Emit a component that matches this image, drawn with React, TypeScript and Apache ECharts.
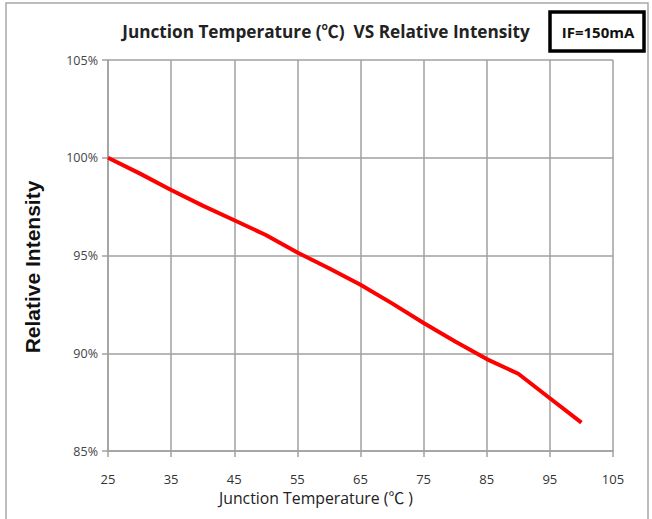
import React, { useEffect, useRef } from "react";
import * as echarts from "echarts";

const temperatures = [25, 30, 35, 40, 45, 50, 55, 60, 65, 70, 75, 80, 85, 90, 95, 100];
const intensity = [100, 99.2, 98.35, 97.55, 96.8, 96.05, 95.15, 94.35, 93.5, 92.55, 91.55, 90.6, 89.7, 88.95, 87.7, 86.45];
const titleText = "Junction Temperature (℃)  VS Relative Intensity";
const xAxisName = "Junction Temperature (℃ )";
const yAxisName = "Relative Intensity";
const legendNote = "IF=150mA";

export default function App() {
  const ref = useRef<HTMLDivElement>(null);
  useEffect(() => {
    document.body.style.margin = "0";
    const chart = echarts.init(ref.current!, null, { renderer: "svg" });
    const font = "'Open Sans', 'Noto Sans CJK SC', sans-serif";
    chart.setOption({
      animation: false,
      backgroundColor: "#ffffff",
      grid: { left: 108, top: 60, width: 505, height: 391, containLabel: false },
      xAxis: {
        type: "value",
        min: 25,
        max: 105,
        interval: 10,
        axisLine: { show: true, lineStyle: { color: "#a0a0a0", width: 1.5 } },
        axisTick: { show: true, length: 6, lineStyle: { color: "#a0a0a0", width: 1.5 } },
        axisLabel: { fontFamily: font, fontSize: 13, lineHeight: 13, color: "#333", margin: 21 },
        splitLine: { show: true, lineStyle: { color: "#a0a0a0", width: 1.5 } },
      },
      yAxis: {
        type: "value",
        min: 85,
        max: 105,
        interval: 5,
        axisLine: { show: true, lineStyle: { color: "#a0a0a0", width: 1.5 } },
        axisTick: { show: true, length: 6, lineStyle: { color: "#a0a0a0", width: 1.5 } },
        axisLabel: { fontFamily: font, fontSize: 12.5, color: "#444", margin: 10, formatter: (v: number) => `${v}%` },
        splitLine: { show: true, lineStyle: { color: "#a0a0a0", width: 1.5 } },
      },
      series: [
        {
          type: "line",
          data: temperatures.map((t, i) => [t, intensity[i]]),
          showSymbol: false,
          symbol: "none",
          lineStyle: { color: "#ff0000", width: 4 },
          z: 5,
        },
      ],
      graphic: [
        {
          type: "rect",
          shape: { x: 6, y: 3, width: 642, height: 530 },
          style: { fill: "none", stroke: "#a8a8a8", lineWidth: 1.5 },
          silent: true,
        },
        {
          type: "text",
          x: 326,
          y: 31,
          style: {
            text: titleText,
            fontFamily: font,
            fontSize: 17.2,
            fontWeight: "bold",
            fill: "#222",
            align: "center",
            verticalAlign: "middle",
          },
        },
        {
          type: "text",
          x: 316,
          y: 498,
          style: {
            text: xAxisName,
            fontFamily: font,
            fontSize: 15.8,
            lineHeight: 16,
            fill: "#222",
            align: "center",
            verticalAlign: "middle",
          },
        },
        {
          type: "rect",
          shape: { x: 550, y: 12, width: 94, height: 39 },
          style: { fill: "#fff", stroke: "#000", lineWidth: 3.5 },
        },
        {
          type: "text",
          x: 598,
          y: 32,
          style: {
            text: legendNote,
            fontFamily: font,
            fontSize: 15,
            fontWeight: "bold",
            fill: "#111",
            align: "center",
            verticalAlign: "middle",
          },
        },
        {
          type: "text",
          x: 32,
          y: 267,
          rotation: Math.PI / 2,
          style: {
            text: yAxisName,
            fontFamily: "'Liberation Sans', Arial, sans-serif",
            fontSize: 21,
            fontWeight: "bold",
            fill: "#111",
            align: "center",
            verticalAlign: "middle",
          },
        },
      ],
    });
    return () => chart.dispose();
  }, []);
  return <div ref={ref} style={{ width: 652, height: 519 }} />;
}
